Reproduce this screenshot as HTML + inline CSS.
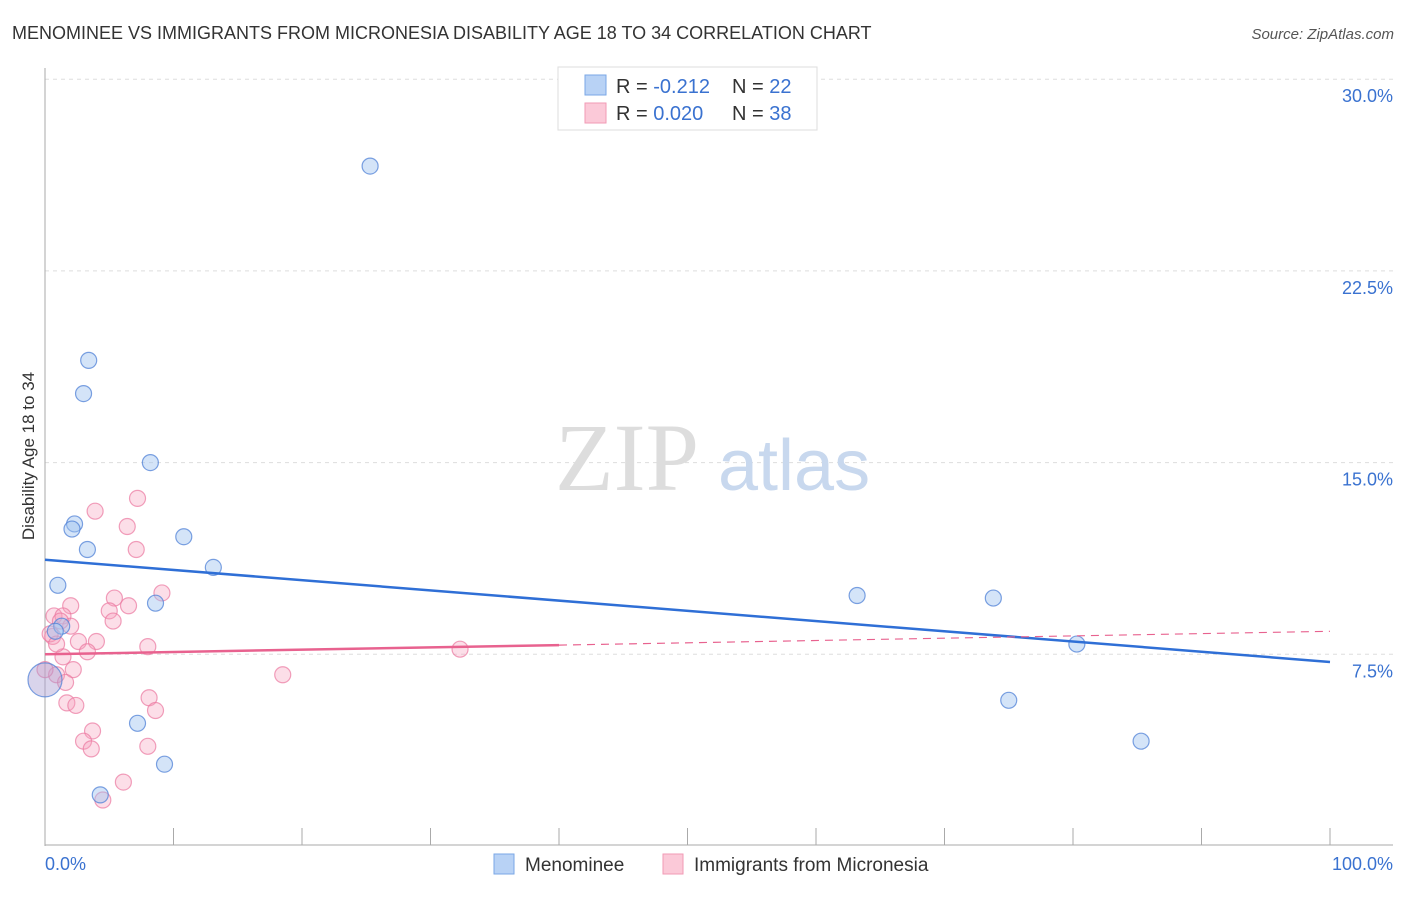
<!DOCTYPE html>
<html><head><meta charset="utf-8"><style>
body{margin:0;background:#fff;font-family:"Liberation Sans",sans-serif;}
svg text{font-family:"Liberation Sans",sans-serif;}
</style></head><body>
<svg width="1406" height="892" xmlns="http://www.w3.org/2000/svg">
<text x="12" y="39" font-size="18" fill="#333">MENOMINEE VS IMMIGRANTS FROM MICRONESIA DISABILITY AGE 18 TO 34 CORRELATION CHART</text>
<text x="1394" y="39" font-size="15" fill="#555" font-style="italic" text-anchor="end">Source: ZipAtlas.com</text>
<g id="grid"></g>
<g id="axes"></g>
<text x="555" y="490" font-size="96" fill="#ddd" font-family="Liberation Serif" style="font-family:'Liberation Serif',serif">ZIP</text>
<text x="718" y="490" font-size="72" fill="#c8d8ee">atlas</text>
<text transform="translate(34,456) rotate(-90)" font-size="17" fill="#333" text-anchor="middle">Disability Age 18 to 34</text>
<g id="pts"></g>
<g id="lines"></g>
<g>
<rect x="558" y="67" width="259" height="63" fill="#fff" stroke="#ddd"/>
<rect x="585" y="75" width="21" height="20" fill="#b8d2f5" stroke="#7aa7e6"/>
<rect x="585" y="103" width="21" height="20" fill="#fbc9d8" stroke="#f19ab5"/>
<text x="616" y="93" font-size="20" fill="#333">R = <tspan fill="#3a72d0">-0.212</tspan></text>
<text x="732" y="93" font-size="20" fill="#333">N = <tspan fill="#3a72d0">22</tspan></text>
<text x="616" y="120" font-size="20" fill="#333">R = <tspan fill="#3a72d0">0.020</tspan></text>
<text x="732" y="120" font-size="20" fill="#333">N = <tspan fill="#3a72d0">38</tspan></text>
</g>
<g>
<rect x="494" y="854" width="20" height="20" fill="#b8d2f5" stroke="#7aa7e6"/>
<text x="525" y="871" font-size="19" fill="#333">Menominee</text>
<rect x="663" y="854" width="20" height="20" fill="#fbc9d8" stroke="#f19ab5"/>
<text x="694" y="871" font-size="19" fill="#333">Immigrants from Micronesia</text>
</g>
</svg>
<script>
const yTicks=[7.5,15,22.5,30];
const yTickLabels=["7.5%","15.0%","22.5%","30.0%"];
const xTickVals=[0,10,20,30,40,50,60,70,80,90,100];
const menomineeX=[25.3,3.4,3.0,8.2,2.3,2.1,10.8,3.3,13.1,1.0,8.6,63.2,73.8,1.3,0.8,80.3,0.0,7.2,75.0,85.3,9.3,4.3];
const menomineeY=[26.6,19.0,17.7,15.0,12.6,12.4,12.1,11.6,10.9,10.2,9.5,9.8,9.7,8.6,8.4,7.9,6.5,4.8,5.7,4.1,3.2,2.0];
const micronesiaX=[7.2,3.9,6.4,7.1,9.1,2.0,5.4,6.5,5.0,5.3,0.7,1.4,2.0,0.6,2.6,4.0,3.3,8.0,1.4,2.2,0.9,1.6,1.7,2.4,8.1,8.6,3.7,3.0,3.6,8.0,6.1,4.5,32.3,18.5,0.4,0.9,1.2,0.0];
const micronesiaY=[13.6,13.1,12.5,11.6,9.9,9.4,9.7,9.4,9.2,8.8,9.0,9.0,8.6,8.2,8.0,8.0,7.6,7.8,7.4,6.9,6.7,6.4,5.6,5.5,5.8,5.3,4.5,4.1,3.8,3.9,2.5,1.8,7.7,6.7,8.3,7.9,8.8,6.9];
const blueLine=[11.2,7.2];
const pinkLine=[7.5,8.4];
const NS="http://www.w3.org/2000/svg";
const X=v=>45+v*12.85;
const Y=v=>846-v*25.56;
function mk(tag,attrs,parent){const e=document.createElementNS(NS,tag);for(const k in attrs)e.setAttribute(k,attrs[k]);parent.appendChild(e);return e;}
const grid=document.getElementById('grid'),axes=document.getElementById('axes'),pts=document.getElementById('pts'),lines=document.getElementById('lines');
yTicks.forEach((t,i)=>{
 const l=mk('line',{x1:45,x2:1393,y1:Y(t),y2:Y(t),stroke:'#ddd','stroke-dasharray':'4,4'},grid);
 
 
 const tx=mk('text',{x:1393,y:Y(t)+23,'font-size':18,fill:'#3a72d0','text-anchor':'end'},axes);
 tx.textContent=yTickLabels[i];
 
 
});
const ya=mk('line',{x1:45,x2:45,y1:68,y2:846,stroke:'#aaa'},axes);


const xa=mk('line',{x1:45,x2:1393,y1:845,y2:845,stroke:'#aaa'},axes);


xTickVals.forEach(v=>{
 const t=mk('line',{x1:X(v),x2:X(v),y1:828,y2:845,stroke:'#aaa'},axes);
 
 
});
const x0=mk('text',{x:45,y:870,'font-size':18,fill:'#3a72d0'},axes);x0.textContent='0.0%';


const x1=mk('text',{x:1393,y:870,'font-size':18,fill:'#3a72d0','text-anchor':'end'},axes);x1.textContent='100.0%';


micronesiaX.forEach((v,i)=>{
 const c=mk('circle',{cx:X(v),cy:Y(micronesiaY[i]),r:8,fill:'rgba(247,160,190,0.35)',stroke:'rgba(235,120,160,0.7)','stroke-width':1.2},pts);
 
 
});
menomineeX.forEach((v,i)=>{
 const big=i===16;
 const c=mk('circle',{cx:X(v),cy:Y(menomineeY[i]),r:big?17:8,fill:big?'rgba(170,160,210,0.45)':'rgba(160,195,240,0.45)',stroke:'rgba(80,130,215,0.75)','stroke-width':1.2},pts);
 
 
});
const bl=mk('line',{x1:X(0),y1:Y(blueLine[0]),x2:X(100),y2:Y(blueLine[1]),stroke:'#2f6fd6','stroke-width':2.5},lines);


const pm=pinkLine[0]+(pinkLine[1]-pinkLine[0])*0.4;
const pl=mk('line',{x1:X(0),y1:Y(pinkLine[0]),x2:X(40),y2:Y(pm),stroke:'#e8628f','stroke-width':2.5},lines);


const pd=mk('line',{x1:X(40),y1:Y(pm),x2:X(100),y2:Y(pinkLine[1]),stroke:'#e8628f','stroke-width':1.2,'stroke-dasharray':'8,6'},lines);


</script>
</body></html>
